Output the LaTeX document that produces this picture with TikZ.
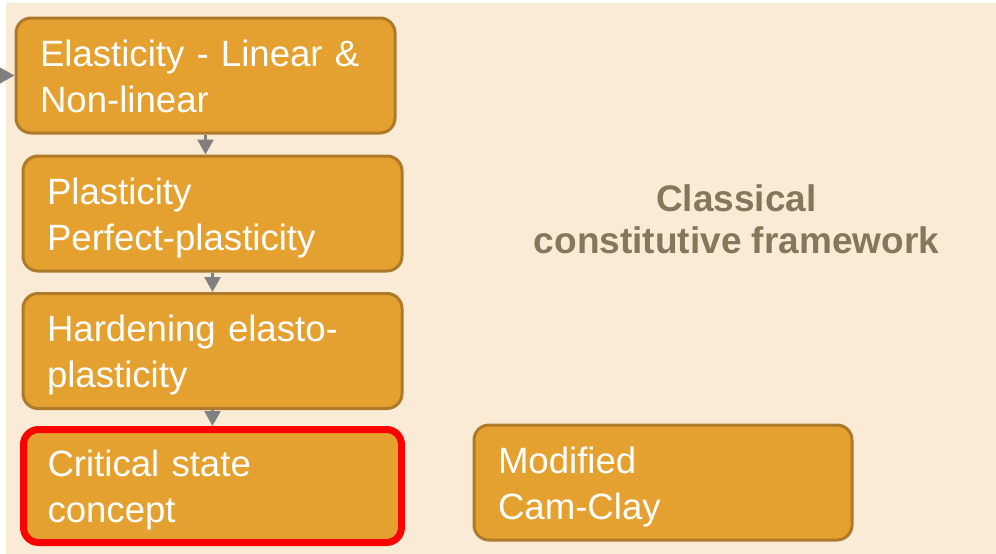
\documentclass[tikz,border=0pt]{standalone}
\usepackage{fontspec}
\setmainfont{Liberation Sans}
\usepackage{xcolor}
\usepackage{tikz}
\usetikzlibrary{arrows.meta,positioning,calc}

\definecolor{bgbeige}{RGB}{250,235,215}
\definecolor{boxfill}{RGB}{229,161,47}
\definecolor{boxline}{RGB}{174,122,42}
\definecolor{arrowgray}{RGB}{128,128,128}
\definecolor{titlebrown}{RGB}{133,119,92}
\newcommand{\bstrut}{\rule[-9pt]{0pt}{45pt}}

\begin{document}
\begin{tikzpicture}[x=1pt,y=-1pt,>={Triangle[length=15pt,width=16pt]},
  flow/.style={->,draw=arrowgray,line width=2.5pt},
  stage/.style={rectangle,rounded corners=15pt,draw=boxline,line width=3pt,fill=boxfill,
    text=white,align=left,text width=331pt,inner xsep=24pt,inner ysep=0pt,
    minimum height=115pt,font=\fontsize{36.6}{46}\selectfont}]

  \useasboundingbox (0,0) rectangle (996,554);
  \fill[bgbeige] (6,3) rectangle (996,554);

  \node[stage] at (205.5,75.5) (elast) {\bstrut Elasticity - Linear \&\\\bstrut Non-linear};
  \node[stage] at (212.5,213.5) (plast) {\bstrut Plasticity\\\bstrut Perfect-plasticity};
  \node[stage] at (212.5,351) (harden) {\bstrut Hardening elasto-\\\bstrut plasticity};
  \node[stage,draw=red,line width=7pt,minimum height=113pt,text width=330pt] at (212.5,486) (crit) {\bstrut Critical state\\\bstrut concept};
  \node[stage,text width=330pt] at (663,482.5) (mcc) {\bstrut Modified\\\bstrut Cam-Clay};
  \node[text=titlebrown,align=center,inner sep=0pt,font=\fontsize{37}{42}\selectfont\bfseries] at (736.5,224) (title) {\strut Classical\\\strut constitutive framework};

  \coordinate (in) at (0,75.5);
  \draw[flow] (in) -- (elast);
  \draw[flow] (elast.south) -- (elast.south |- plast.north);
  \draw[flow] (plast.south) -- (plast.south |- harden.north);
  \draw[flow] (harden.south) -- (harden.south |- crit.north);
\end{tikzpicture}
\end{document}
